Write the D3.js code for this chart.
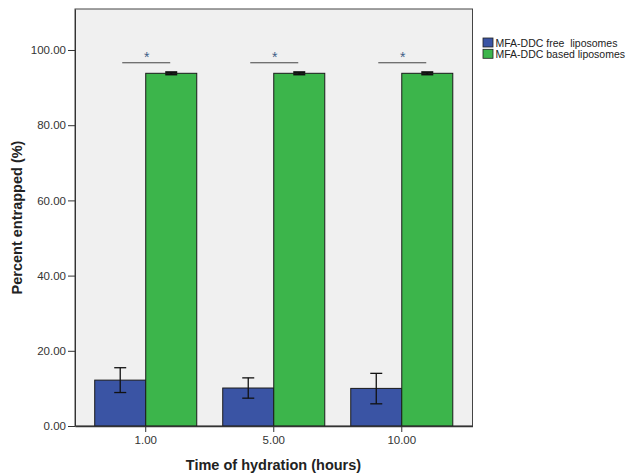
<!DOCTYPE html>
<html><head><meta charset="utf-8">
<script src="https://cdn.jsdelivr.net/npm/d3@7"></script>
<style>body{margin:0;background:#fff;} svg{display:block;}</style>
</head><body>
<svg id="chart" width="629" height="476"></svg>
<script>
const categories = ["1.00", "5.00", "10.00"];
const seriesNames = ["MFA-DDC free  liposomes", "MFA-DDC based liposomes"];
const freeMean = [12.2, 10.1, 10.0];
const freeLow = [8.9, 7.4, 5.9];
const freeHigh = [15.5, 12.8, 14.0];
const basedMean = [93.8, 93.8, 93.8];
const basedLow = [93.5, 93.5, 93.5];
const basedHigh = [94.1, 94.1, 94.1];
const sigLevel = [96.6, 96.6, 96.6];
const yTicks = [0, 20, 40, 60, 80, 100];
const colors = ["#3A54A4", "#3CB54B"];

const svg = d3.select("#chart");
const pLeft = 75, pRight = 472.5, pTop = 9, pBottom = 426;

const y = d3.scaleLinear().domain([0, 110.9]).range([pBottom, pTop]);
const x0 = d3.scaleBand().domain(categories).range([pLeft, pRight]).paddingInner(0.203).paddingOuter(0.154);
const x1 = d3.scaleBand().domain([0, 1]).range([0, x0.bandwidth()]);

// plot background
svg.append("rect").attr("x", pLeft).attr("y", pTop).attr("width", pRight - pLeft).attr("height", pBottom - pTop)
  .attr("fill", "#F0F0F0").attr("stroke", "#444").attr("stroke-width", 1);

const series = [
  {mean: freeMean, low: freeLow, high: freeHigh},
  {mean: basedMean, low: basedLow, high: basedHigh}
];

series.forEach((s, si) => {
  const g = svg.append("g");
  g.selectAll("rect").data(categories).join("rect")
    .attr("x", (c) => x0(c) + x1(si))
    .attr("y", (c, i) => y(s.mean[i]))
    .attr("width", x1.bandwidth())
    .attr("height", (c, i) => y(0) - y(s.mean[i]))
    .attr("fill", colors[si]).attr("stroke", "#1a1a1a").attr("stroke-width", 1);
});

series.forEach((s, si) => {
  categories.forEach((c, i) => {
    const cx = x0(c) + x1(si) + x1.bandwidth() / 2;
    const g = svg.append("g").attr("stroke", "#111").attr("stroke-width", si === 1 ? 2 : 1.3);
    g.append("line").attr("x1", cx).attr("x2", cx).attr("y1", y(s.low[i])).attr("y2", y(s.high[i]));
    g.append("line").attr("x1", cx - 6).attr("x2", cx + 6).attr("y1", y(s.low[i])).attr("y2", y(s.low[i]));
    g.append("line").attr("x1", cx - 6).attr("x2", cx + 6).attr("y1", y(s.high[i])).attr("y2", y(s.high[i]));
  });
});

// significance markers
categories.forEach((c, i) => {
  const cx = x0(c) + x0.bandwidth() / 2;
  svg.append("line").attr("x1", cx - 23.5).attr("x2", cx + 24.5)
    .attr("y1", y(sigLevel[i])).attr("y2", y(sigLevel[i]))
    .attr("stroke", "#444").attr("stroke-width", 1);
  svg.append("text").attr("x", cx + 1).attr("y", y(sigLevel[i]) - 1)
    .attr("text-anchor", "middle").attr("font-family", "Arial, Liberation Sans, sans-serif")
    .attr("font-size", 14).attr("fill", "#3E5F86").text("*");
});

// axes
const yAxis = d3.axisLeft(y).tickValues(yTicks).tickFormat(d3.format(".2f")).tickSize(7).tickSizeOuter(0).tickPadding(2);
const ya = svg.append("g").attr("transform", `translate(${pLeft},0)`).call(yAxis);
ya.select(".domain").attr("stroke", "#333");
ya.selectAll(".tick line").attr("stroke", "#333");
ya.selectAll("text").attr("font-family", "Arial, Liberation Sans, sans-serif").attr("font-size", 11.5).attr("fill", "#333");

const xAxis = d3.axisBottom(x0).tickSize(6).tickSizeOuter(0).tickPadding(4);
const xa = svg.append("g").attr("transform", `translate(0,${pBottom})`).call(xAxis);
xa.select(".domain").attr("stroke", "#333").attr("stroke-width", 1.5);
xa.selectAll(".tick line").attr("stroke", "#333");
xa.selectAll("text").attr("font-family", "Arial, Liberation Sans, sans-serif").attr("font-size", 11.5).attr("fill", "#333");

// axis titles
svg.append("text").attr("transform", `translate(22,${(pTop + pBottom) / 2}) rotate(-90)`)
  .attr("text-anchor", "middle").attr("font-family", "Arial, Liberation Sans, sans-serif")
  .attr("font-weight", "bold").attr("font-size", 14.5).attr("fill", "#222").text("Percent entrapped (%)");
svg.append("text").attr("x", 273.5).attr("y", 470)
  .attr("text-anchor", "middle").attr("font-family", "Arial, Liberation Sans, sans-serif")
  .attr("font-weight", "bold").attr("font-size", 14.5).attr("fill", "#222").text("Time of hydration (hours)");

// legend
const lg = svg.append("g").attr("transform", "translate(483,38)");
seriesNames.forEach((n, i) => {
  lg.append("rect").attr("x", 0).attr("y", i * 11.3).attr("width", 10).attr("height", 9)
    .attr("fill", colors[i]).attr("stroke", "#222").attr("stroke-width", 0.8);
  lg.append("text").attr("x", 12.5).attr("y", i * 11.3 + 8.5)
    .attr("font-family", "Arial, Liberation Sans, sans-serif").attr("font-size", 10.5).attr("fill", "#222")
    .attr("xml:space", "preserve").style("white-space", "pre").text(n);
});
</script>
</body></html>
